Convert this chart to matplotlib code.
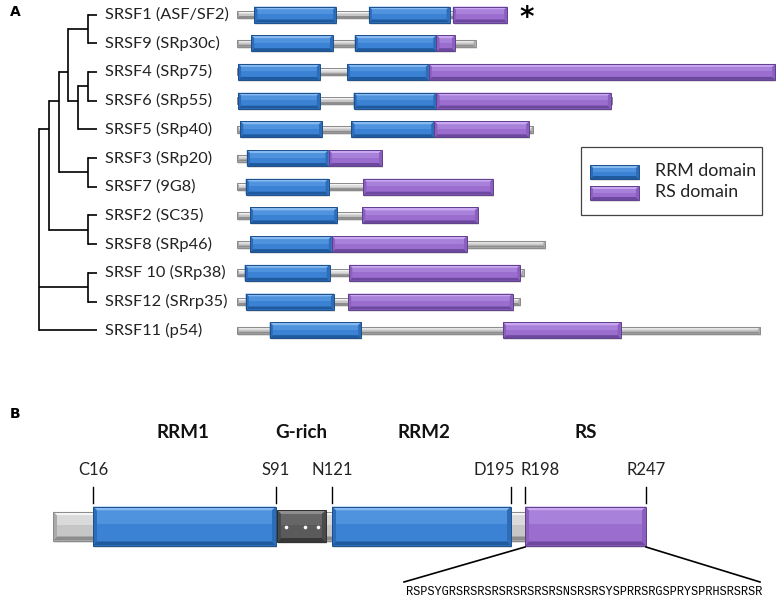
import matplotlib
matplotlib.use('Agg')
import matplotlib.pyplot as plt
from matplotlib.patches import Polygon, Rectangle
import numpy as np

# ---- panel A data: protein architecture (residue numbers) ----
names = ['SRSF1 (ASF/SF2)', 'SRSF9 (SRp30c)', 'SRSF4 (SRp75)', 'SRSF6 (SRp55)',
         'SRSF5 (SRp40)', 'SRSF3 (SRp20)', 'SRSF7 (9G8)', 'SRSF2 (SC35)',
         'SRSF8 (SRp46)', 'SRSF 10 (SRp38)', 'SRSF12 (SRrp35)', 'SRSF11 (p54)']
lengths = [248, 219, 494, 344, 272, 133, 235, 221, 283, 263, 260, 480]
rrm = [[(16, 91), (121, 195)], [(13, 88), (108, 183)], [(1, 76), (101, 176)],
       [(1, 76), (107, 183)], [(3, 78), (105, 181)], [(9, 84)], [(8, 84)],
       [(12, 92)], [(12, 87)], [(7, 85)], [(8, 89)], [(30, 114)]]
rs = [[(198, 248)], [(183, 200)], [(176, 494)], [(183, 343)], [(181, 268)],
      [(84, 133)], [(116, 235)], [(115, 221)], [(87, 211)], [(103, 260)],
      [(102, 253)], [(244, 352)]]

# dendrogram: depth level of each internal node, row where it joins its parent
tree = {'depth': 0, 'row': 0, 'children': [
    {'depth': 1, 'row': 4, 'children': [
        {'depth': 2, 'row': 3, 'children': [
            {'depth': 3, 'row': 2, 'children': [
                {'depth': 5, 'row': 0.5, 'children': [0, 1]},
                {'depth': 4, 'row': 3, 'children': [
                    {'depth': 5, 'row': 2.5, 'children': [2, 3]}, 4]}]},
            {'depth': 5, 'row': 5.5, 'children': [5, 6]}]},
        {'depth': 5, 'row': 7.5, 'children': [7, 8]}]},
    {'depth': 5, 'row': 9.5, 'children': [9, 10]},
    11]}

# ---- panel B data: SRSF1 ----
b_domains = ['RRM1', 'G-rich', 'RRM2', 'RS']
b_sites = ['C16', 'S91', 'N121', 'D195', 'R198', 'R247']
b_site_res = [16, 91, 121, 195, 198, 247]
b_segments = [('rrm', 16, 91), ('grich', 92, 118), ('rrm', 121, 195), ('rs', 198, 247)]
rs_seq = 'RSPSYGRSRSRSRSRSRSRSRSNSRSRSYSPRRSRGSPRYSPRHSRSRSR'

# ---- styles ----
BLUE = dict(face='#3b82d4', hi='#4f93de', light='#86b9ef', dark='#1f5a9e', side='#2d6cb8', edge='#1d4f8a')
PURPLE = dict(face='#9a6dcf', hi='#a882da', light='#c9a8f1', dark='#6c499e', side='#8a5fc0', edge='#5f3f8c')
GRAY = dict(face='#c6c6c6', hi='#dadada', light='#f4f4f4', dark='#8c8c8c', side='#aaaaaa', edge='#8a8a8a')
GRICH = dict(face='#5a5a5a', hi='#666666', light='#8e8e8e', dark='#383838', side='#4a4a4a', edge='#2e2e2e')
STYLE = {'rrm': BLUE, 'rs': PURPLE, 'grich': GRICH}
FONT = 'Lato'


def bevel_box(ax, x0, x1, yc, h, c, b=3, shadow=True):
    top, bot = yc - h / 2, yc + h / 2
    if shadow:
        ax.add_patch(Rectangle((x0 + 1, top + 2), x1 - x0, h, fc='k', alpha=0.12, ec='none'))
    ax.add_patch(Rectangle((x0, top), x1 - x0, h, fc=c['face'], ec='none'))
    ax.add_patch(Rectangle((x0 + b, top + b), x1 - x0 - 2 * b, (h - 2 * b) * 0.45,
                           fc=c['hi'], ec='none'))
    ax.add_patch(Polygon([(x0, top), (x1, top), (x1 - b, top + b), (x0 + b, top + b)],
                         fc=c['light'], ec='none'))
    ax.add_patch(Polygon([(x0, bot), (x1, bot), (x1 - b, bot - b), (x0 + b, bot - b)],
                         fc=c['dark'], ec='none'))
    ax.add_patch(Polygon([(x0, top), (x0 + b, top + b), (x0 + b, bot - b), (x0, bot)],
                         fc=c['side'], ec='none'))
    ax.add_patch(Polygon([(x1, top), (x1 - b, top + b), (x1 - b, bot - b), (x1, bot)],
                         fc=c['side'], ec='none'))
    ax.add_patch(Rectangle((x0, top), x1 - x0, h, fc='none', ec=c['edge'], lw=0.7))


fig = plt.figure(figsize=(7.8, 6), dpi=100)
ax = fig.add_axes([0, 0, 1, 1])
ax.set_xlim(0, 780)
ax.set_ylim(600, 0)
ax.axis('off')

# ---- panel A layout ----
row_y = lambda r: 14.5 + r * 28.7
depth_x = lambda d: 39 + d * 9.8
leaf_x = 97
scale_a, x0_a = 1.09, 237
res_x = lambda r: x0_a + r * scale_a


def draw_node(node):
    nx = depth_x(node['depth'])
    rows = []
    for ch in node['children']:
        if isinstance(ch, dict):
            cr, cx = ch['row'], depth_x(ch['depth'])
            draw_node(ch)
        else:
            cr, cx = ch, leaf_x
        rows.append(cr)
        ax.plot([nx, cx], [row_y(cr), row_y(cr)], color='k', lw=1.2, solid_capstyle='butt')
    ax.plot([nx, nx], [row_y(min(rows)), row_y(max(rows))], color='k', lw=1.2,
            solid_capstyle='projecting')


draw_node(tree)

for i, name in enumerate(names):
    y = row_y(i)
    ax.text(105, y, name, fontsize=11.8, family=FONT, va='center', ha='left', color='#222')
    bevel_box(ax, res_x(0), res_x(lengths[i]), y, 7, GRAY, b=2)
    for s, e in rrm[i]:
        bevel_box(ax, res_x(s), res_x(e), y, 16, BLUE, b=3)
    for s, e in rs[i]:
        bevel_box(ax, res_x(s), res_x(e), y, 16, PURPLE, b=3)

ax.text(res_x(lengths[0]) + 19, row_y(0) + 3, '*', fontsize=20, fontweight='bold',
        ha='center', va='center', family='DejaVu Sans')

# legend
ax.add_patch(Rectangle((581, 147), 181, 68, fc='white', ec='#444', lw=0.9))
bevel_box(ax, 590, 639, 172, 14, BLUE, b=3)
bevel_box(ax, 590, 639, 193, 14, PURPLE, b=3)
ax.text(655, 171, 'RRM domain', fontsize=12.8, family=FONT, va='center', color='#222')
ax.text(655, 192, 'RS domain', fontsize=12.8, family=FONT, va='center', color='#222')

ax.text(10, 12, 'A', fontsize=10, fontweight='bold', family='DejaVu Sans', va='center')
ax.text(10, 414, 'B', fontsize=10, fontweight='bold', family='DejaVu Sans', va='center')

# ---- panel B layout (schematic, not to scale) ----
anchor_res = [1, 16, 91, 92, 118, 121, 195, 198, 247]
anchor_x = [53, 93, 276, 277, 326, 332, 511, 525, 646]
bx = lambda r: np.interp(r, anchor_res, anchor_x)
yb = 526

bevel_box(ax, bx(1), bx(247), yb, 29, GRAY, b=4)
for kind, s, e in b_segments:
    h = 32 if kind == 'grich' else 39
    bevel_box(ax, bx(s), bx(e), yb, h, STYLE[kind], b=4)

for dx in [286, 305, 318]:
    ax.plot(dx, yb + 1, 'o', ms=2.6, color='white', mec='none')

dom_x = [183, 301, 424, 586]
for name, x in zip(b_domains, dom_x):
    ax.text(x, 433, name, fontsize=13.5, fontweight='bold', family=FONT,
            ha='center', va='center', color='#111')

site_ha = ['center', 'center', 'center', 'right', 'left', 'center']
site_dx = [0, 0, 0, 4, -4, 0]
for name, r, ha, dx in zip(b_sites, b_site_res, site_ha, site_dx):
    x = bx(r)
    ax.plot([x, x], [487, 503], color='k', lw=1)
    ax.text(x + dx, 470, name, fontsize=12, family=FONT, ha=ha, va='center', color='#222')

# zoom lines to sequence
ax.plot([bx(198), 404], [547, 582], color='k', lw=1.2)
ax.plot([bx(247), 760], [547, 582], color='k', lw=1.2)
ax.text(584, 592, rs_seq, fontsize=8.6, family='Liberation Mono', ha='center', va='center')

fig.savefig('out.png', dpi=100)
